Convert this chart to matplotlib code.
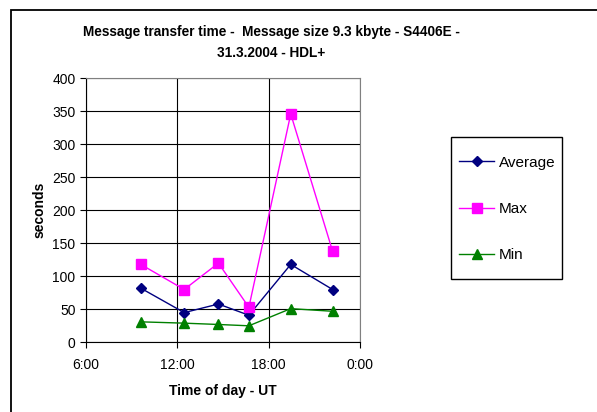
import matplotlib
matplotlib.use("Agg")
import matplotlib.pyplot as plt
from matplotlib.patches import Rectangle

plt.rcParams['font.family'] = ['Liberation Sans', 'DejaVu Sans']

# measurement times (hours UT) and transfer times in seconds
hours = [9.6, 12.45, 14.7, 16.7, 19.45, 22.2]
average = [82, 45, 58, 41, 118, 80]
maximum = [118, 80, 120, 53, 346, 138]
minimum = [31, 29, 27, 25, 51, 47]

xticks = [6, 12, 18, 24]
xtick_labels = ["6:00", "12:00", "18:00", "0:00"]

W, H = 597, 412
fig = plt.figure(figsize=(W / 100, H / 100), dpi=100)
fig.patch.set_facecolor("white")

# frame around the whole chart
fig.patches.append(Rectangle((11 / W, -0.1), 1.2, 1.1 - 10 / H,
                             transform=fig.transFigure, fill=False,
                             edgecolor="black", linewidth=1.3))

ax = fig.add_axes([86 / W, 1 - 342.3 / H, 274 / W, 264 / H])

ax.plot(hours, average, color="#000080", marker="D", markersize=5,
        linewidth=1, label="Average")
ax.plot(hours, maximum, color="#FF00FF", marker="s", markersize=7.5,
        linewidth=1, label="Max")
ax.plot(hours, minimum, color="#008000", marker="^", markersize=6.5,
        linewidth=1, label="Min")

ax.set_xlim(6, 24)
ax.set_ylim(0, 400)
ax.set_xticks(xticks)
ax.set_xticklabels(xtick_labels)
ax.set_yticks(range(0, 401, 50))
ax.tick_params(labelsize=10, length=4, width=0.8, direction="out")
ax.tick_params(axis="x", pad=7)
ax.grid(True, color="black", linewidth=0.8)
ax.set_axisbelow(True)
for side in ["top", "right"]:
    ax.spines[side].set_color("#808080")
for side in ["left", "bottom"]:
    ax.spines[side].set_color("black")

ax.set_xlabel("Time of day - UT", fontsize=10, fontweight="bold", labelpad=9)
ax.set_ylabel("seconds", fontsize=10, fontweight="bold", labelpad=4)

fig.text(271 / W, 1 - 42.5 / H,
         "Message transfer time -  Message size 9.3 kbyte - S4406E -\n31.3.2004 - HDL+",
         ha="center", va="center", fontsize=9.8, fontweight="bold",
         linespacing=1.6)

# legend box drawn separately so padding can differ per side
fig.patches.append(Rectangle((451 / W, 1 - 279 / H), 111 / W, 142 / H,
                             transform=fig.transFigure, fill=False,
                             edgecolor="black", linewidth=1.0))
leg = fig.legend(loc="upper left", bbox_to_anchor=(459 / W, 1 - 155.5 / H),
                 frameon=False, fontsize=11, labelspacing=2.12,
                 handlelength=2.3, borderpad=0, handletextpad=0.3,
                 borderaxespad=0)

fig.savefig("out.png", dpi=100, facecolor="white")
